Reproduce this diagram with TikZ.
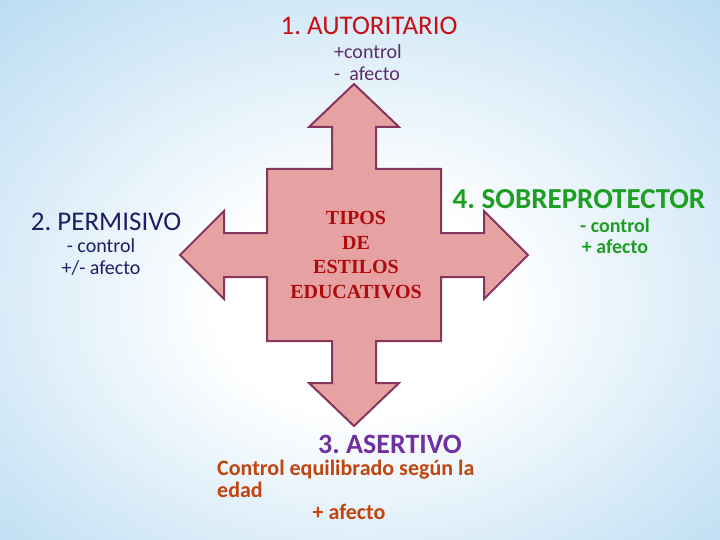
\documentclass[tikz,border=0pt]{standalone}
\usepackage{fontspec}
\setmainfont{Carlito}
\newfontfamily\serifbold{Liberation Serif}
\usetikzlibrary{positioning}
\frenchspacing

\definecolor{skyedge}{HTML}{BCDDF3}
\definecolor{crossfill}{HTML}{E6A2A3}
\definecolor{crossline}{HTML}{86365C}
\definecolor{autred}{HTML}{C80F14}
\definecolor{autsub}{HTML}{5C2D6E}
\definecolor{pernavy}{HTML}{1E1E66}
\definecolor{sobgreen}{HTML}{1E9E22}
\definecolor{asepurple}{HTML}{7030A0}
\definecolor{aseorange}{HTML}{C2440E}
\definecolor{tipred}{HTML}{B00A0A}

\pgfdeclareradialshading{bgglow}{\pgfpoint{0bp}{-4bp}}{%
  color(0bp)=(white); color(10bp)=(white); color(36bp)=(skyedge); color(60bp)=(skyedge)}

\tikzset{
  title/.style={inner sep=0pt, font=\fontsize{27}{30}\selectfont},
  sub/.style={inner sep=0pt, font=\fontsize{20}{22}\selectfont, align=center},
  boldtitle/.style={inner sep=0pt, font=\bfseries\fontsize{29}{32}\selectfont},
}

\begin{document}
\begin{tikzpicture}[x=1pt,y=-1pt]
  \useasboundingbox (0,0) rectangle (720,540);
  \shade[shading=bgglow] (0,0) rectangle (720,540);      % pale sky backdrop

  % Cross of four arrows
  \coordinate (mid) at (354,255);
  \draw[line width=2pt, fill=crossfill, draw=crossline]
    (354,84) -- (399,127) -- (376,127) -- (376,169)         % up
    -- (441,169) -- (441,233) -- (484,233) -- (484,211)
    -- (528,255) -- (484,299) -- (484,277) -- (441,277)     % right
    -- (441,341) -- (376,341) -- (376,383) -- (399,383)
    -- (354,426) -- (309,383) -- (332,383) -- (332,341)     % down
    -- (267,341) -- (267,277) -- (224,277) -- (224,299)
    -- (180,255) -- (224,211) -- (224,233) -- (267,233)     % left
    -- (267,169) -- (332,169) -- (332,127) -- (309,127) -- cycle;

  % Centre text
  \node[inner sep=0pt, align=center, text=tipred,
        font=\serifbold\bfseries\fontsize{20}{24.5}\selectfont] (tipos) at (356,255)
        {TIPOS\\DE\\ESTILOS\\EDUCATIVOS};

  % 1. top
  \node[title, text=autred] (autor) at (369,26) {1. AUTORITARIO};
  \node[sub, align=left, anchor=west, text=autsub] (autorsub) at (334,63)
        {+control\\-\ \ afecto};

  % 2. left
  \node[title, text=pernavy] (permis) at (106,222) {2. PERMISIVO};
  \node[sub, text=pernavy] (permissub) at (101,257) {- control\\+/- afecto};

  % 4. right
  \node[boldtitle, text=sobgreen] (sobre) at (579,199) {4. SOBREPROTECTOR};
  \node[sub, text=sobgreen, font=\bfseries\fontsize{20}{21}\selectfont] (sobresub) at (615,236)
        {- control\\+ afecto};

  % 3. bottom
  \node[boldtitle, text=asepurple, font=\bfseries\fontsize{28}{30}\selectfont] (asert) at (390,444) {3. ASERTIVO};
  \node[inner sep=0pt, anchor=west, text=aseorange, font=\bfseries\fontsize{22}{21.5}\selectfont,
        align=left] (asertsub) at (217,479) {Control equilibrado según la\\edad};
  \node[inner sep=0pt, text=aseorange, font=\bfseries\fontsize{22}{22}\selectfont] (asertplus) at (349,512) {+ afecto};
\end{tikzpicture}
\end{document}
